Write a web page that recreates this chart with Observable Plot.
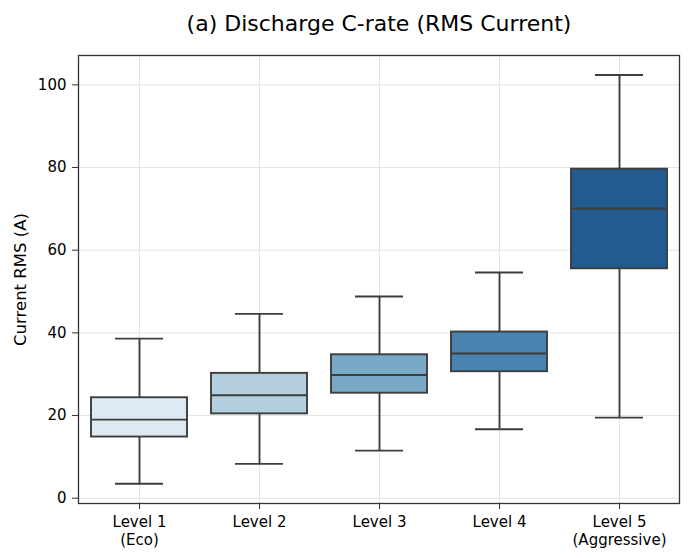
<!DOCTYPE html>
<html>
<head>
<meta charset="utf-8">
<script src="https://cdn.jsdelivr.net/npm/d3@7"></script>
<script src="https://cdn.jsdelivr.net/npm/@observablehq/plot@0.6"></script>
<style>
  html, body { margin: 0; padding: 0; background: #fff; }
  #chart svg { display: block; }
</style>
</head>
<body>
<div id="chart"></div>
<script>
const levels = ["Level 1\n(Eco)", "Level 2", "Level 3", "Level 4", "Level 5\n(Aggressive)"];
const whiskerLow = [3.5, 8.3, 11.5, 16.7, 19.5];
const q1 = [14.8, 20.4, 25.4, 30.6, 55.5];
const median = [19.0, 24.9, 29.8, 35.0, 70.1];
const q3 = [24.3, 30.2, 34.7, 40.2, 79.6];
const whiskerHigh = [38.6, 44.6, 48.8, 54.6, 102.4];
const palette = ["#dee9f3", "#b3cedf", "#78aac8", "#4884af", "#225b90"];
const yTicks = [0, 20, 40, 60, 80, 100];

const data = levels.map((level, i) => ({
  level, lo: whiskerLow[i], q1: q1[i], med: median[i], q3: q3[i], hi: whiskerHigh[i], color: palette[i]
}));

const line = "#3d3d3d";
const font = "DejaVu Sans, sans-serif";

const chart = Plot.plot({
  width: 688,
  height: 558,
  marginLeft: 78,
  marginRight: 9,
  marginTop: 55,
  marginBottom: 55,
  style: { fontFamily: font, fontSize: "15px", color: "#000", background: "#fff" },
  x: { type: "band", domain: levels, padding: 0 },
  y: { domain: [-1.28, 107.1] },
  marks: [
    Plot.gridY(yTicks, { stroke: "#e4e4e4", strokeOpacity: 1, strokeWidth: 1 }),
    Plot.ruleX(levels, { x: d => d, stroke: "#e4e4e4", strokeOpacity: 1, strokeWidth: 1 }),
    Plot.ruleX(data, { x: "level", y1: "lo", y2: "q1", stroke: line, strokeWidth: 1.9 }),
    Plot.ruleX(data, { x: "level", y1: "q3", y2: "hi", stroke: line, strokeWidth: 1.9 }),
    Plot.tickY(data, { x: "level", y: "lo", stroke: line, strokeWidth: 1.9, inset: 36 }),
    Plot.tickY(data, { x: "level", y: "hi", stroke: line, strokeWidth: 1.9, inset: 36 }),
    Plot.barY(data, { x: "level", y1: "q1", y2: "q3", fill: "color", stroke: line, strokeWidth: 1.9, insetLeft: 12, insetRight: 12 }),
    Plot.tickY(data, { x: "level", y: "med", stroke: line, strokeWidth: 1.9, inset: 12 }),
    Plot.frame({ stroke: "#333", strokeWidth: 1.3 }),
    Plot.axisY(yTicks, { label: null, tickSize: 6, tickPadding: 6, fontSize: 15, stroke: "#333" }),
    Plot.axisX({ label: null, tickSize: 6, tickPadding: 5, fontSize: 15, lineHeight: 1.2, stroke: "#333" }),
    Plot.text(["Current RMS (A)"], { frameAnchor: "left", textAnchor: "middle", lineAnchor: "middle", dx: -58, rotate: -90, fontSize: 16.5, fill: "#000" }),
    Plot.text(["(a) Discharge C-rate (RMS Current)"], { frameAnchor: "top", textAnchor: "middle", lineAnchor: "middle", dy: -32, fontSize: 22, fill: "#000" })
  ]
});

document.getElementById("chart").appendChild(chart);
</script>
</body>
</html>
